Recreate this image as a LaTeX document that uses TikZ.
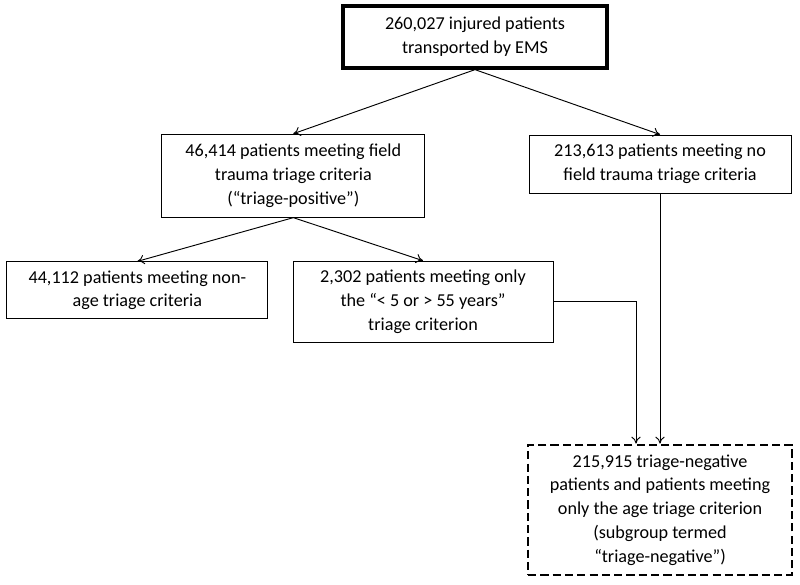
\documentclass[tikz,border=0pt]{standalone}
\usepackage{fontspec}
\setmainfont{Carlito}
\usetikzlibrary{arrows.meta}
\begin{document}
\begin{tikzpicture}[
    box/.style={draw, rectangle, align=center, inner sep=2pt, line width=0.8pt,
      font=\fontsize{15.5}{20.3}\selectfont},
    topbox/.style={box, line width=2.8pt},
    endbox/.style={box, line width=2.3pt, dash pattern=on 7pt off 3.5pt},
    link/.style={-{To[length=6pt,width=8pt]}, line width=0.8pt}
  ]
  \useasboundingbox (0,0) rectangle (24,-17.52);
  \node [topbox, minimum width=7.92cm, minimum height=1.86cm] (ems) at (14.25,-1.11)
    {260,027 injured patients\\transported by EMS};
  \node [box, minimum width=7.89cm, minimum height=2.49cm] (pos) at (8.8,-5.27)
    {46,414 patients meeting field\\trauma triage criteria\\(“triage-positive”)};
  \node [box, minimum width=7.86cm, minimum height=1.74cm] (neg) at (19.8,-4.92)
    {213,613 patients meeting no\\field trauma triage criteria};
  \node [box, minimum width=7.83cm, minimum height=1.71cm] (nonage) at (4.12,-8.71)
    {44,112 patients meeting non-\\age triage criteria};
  \node [box, minimum width=7.8cm, minimum height=2.43cm] (age) at (12.69,-9.05)
    {2,302 patients meeting only\\the “< 5 or > 55 years”\\triage criterion};
  \node [endbox, minimum width=7.92cm, minimum height=3.9cm] (final) at (19.8,-15.3)
    {215,915 triage-negative\\patients and patients meeting\\only the age triage criterion\\(subgroup termed\\“triage-negative”)};
  \draw [link] (ems.south) -- (pos.north);
  \draw [link] (ems.south) -- (neg.north);
  \draw [link] (pos.south) -- (nonage.north);
  \draw [link] (pos.south) -- (age.north);
  \draw [link] (age.east) -| ([xshift=-0.72cm]final.north);
  \draw [link] (neg.south) -- (final.north);
\end{tikzpicture}
\end{document}
